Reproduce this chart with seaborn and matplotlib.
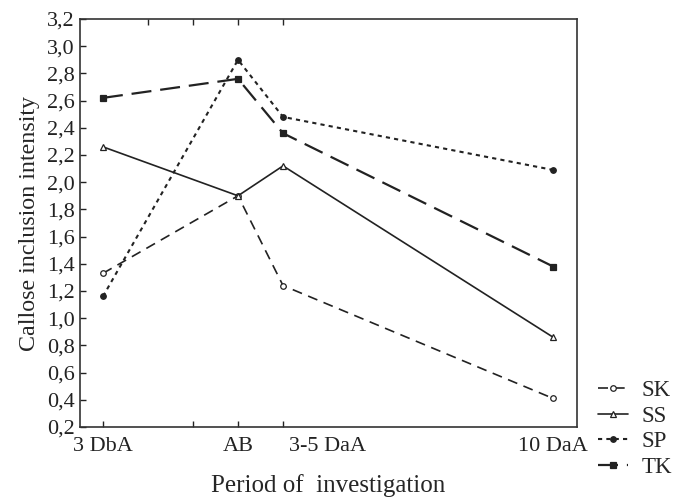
import matplotlib
matplotlib.use("Agg")
import matplotlib.pyplot as plt
import numpy as np
import pandas as pd
import seaborn as sns

# period positions on a numeric axis (Statistica-style uneven spacing)
periods = ["3 DbA", "AB", "3-5 DaA", "10 DaA"]
period_pos = [0, 3, 4, 10]

sk = [1.33, 1.90, 1.24, 0.41]
ss = [2.26, 1.90, 2.12, 0.86]
sp = [1.16, 2.90, 2.48, 2.09]
tk = [2.62, 2.76, 2.36, 1.38]

series = {"SK": sk, "SS": ss, "SP": sp, "TK": tk}

rows = []
for name, vals in series.items():
    for p, v in zip(period_pos, vals):
        rows.append({"pos": p, "value": v, "group": name})
df = pd.DataFrame(rows)

sns.set_style("ticks")
plt.rcParams["font.family"] = ["Liberation Serif", "DejaVu Serif"]

styles = {
    "SK": dict(linestyle=(0, (6, 4)), marker="o", mfc="white", lw=1.2, ms=4),
    "SS": dict(linestyle="-", marker="^", mfc="white", lw=1.2, ms=4.5),
    "SP": dict(linestyle=(0, (2, 2)), marker="o", mfc="#222222", lw=1.5, ms=4),
    "TK": dict(linestyle=(0, (9, 4)), marker="s", mfc="#222222", lw=1.6, ms=4.5),
}

fig = plt.figure(figsize=(6.87, 4.98), dpi=100)
ax = fig.add_axes([80 / 687, 71 / 498, 497 / 687, 408 / 498])

for name in series:
    st = styles[name]
    sns.lineplot(data=df[df.group == name], x="pos", y="value", ax=ax,
                 color="#222222", linestyle=st["linestyle"], lw=st["lw"],
                 marker=st["marker"], markersize=st["ms"],
                 markerfacecolor=st["mfc"], markeredgecolor="#222222",
                 markeredgewidth=0.9, label=name)

ax.set_xlim(-0.51, 10.53)
ax.set_ylim(0.2, 3.2)
yt = np.arange(0.2, 3.21, 0.2)
ax.set_yticks(yt)
ax.set_yticklabels([f"{v:.1f}".replace(".", ",") for v in yt])

# tick marks at 0, 2, 3, 4; the "3-5 DaA" label sits right of its tick, as in the source
ax.set_xticks([0, 2, 3, 4, 5, 10])
ax.set_xticklabels(["3 DbA", "", "AB", "", "3-5 DaA", "10 DaA"])
for i in (4, 5):
    ax.xaxis.get_major_ticks()[i].tick1line.set_visible(False)
ax.tick_params(axis="both", direction="in", length=4, width=1, labelsize=16,
               colors="#222222")
ax.tick_params(axis="x", pad=7)
ax.tick_params(axis="y", pad=4)
top = ax.secondary_xaxis("top")
top.set_xticks([1, 2, 3, 4])
top.set_xticklabels([])
top.tick_params(direction="in", length=4, width=1)
top.spines["top"].set_visible(False)

for s in ax.spines.values():
    s.set_visible(True)
    s.set_color("#333333")
    s.set_linewidth(1.2)

ax.set_xlabel("Period of  investigation", fontsize=18, labelpad=13.5)
ax.set_ylabel("Callose inclusion intensity", fontsize=17.3, labelpad=5)

ax.get_legend().remove()
handles, labels = ax.get_legend_handles_labels()
fig.legend(handles, labels, loc="upper left", bbox_to_anchor=(589 / 687, 1 - 371 / 498),
           frameon=False, fontsize=16.5, handlelength=1.3, handletextpad=0.6,
           labelspacing=0.2, borderaxespad=0)

fig.savefig("out.png", dpi=100)
